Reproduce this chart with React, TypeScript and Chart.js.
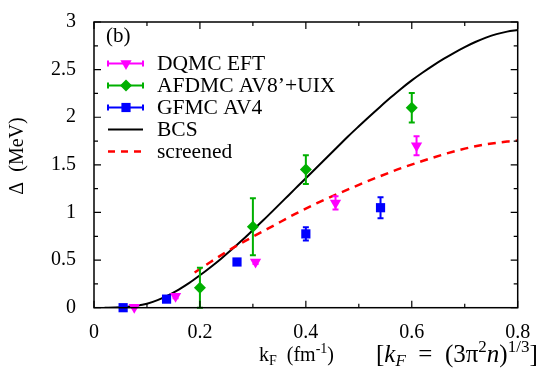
import React, { useEffect, useRef } from "react";
import { Chart, registerables } from "chart.js";

Chart.register(...registerables);

// ---- data ----
const dqmcX = [0.076, 0.154, 0.305, 0.456, 0.609];
const dqmcY = [0.005, 0.12, 0.48, 1.1, 1.7];
const dqmcErr = [0.01, 0.02, 0.02, 0.07, 0.1];

const afdmcX = [0.2, 0.3, 0.4, 0.6];
const afdmcY = [0.21, 0.85, 1.45, 2.1];
const afdmcErr = [0.21, 0.3, 0.15, 0.155];

const gfmcX = [0.055, 0.137, 0.27, 0.4, 0.541];
const gfmcY = [0.0, 0.09, 0.48, 0.775, 1.05];
const gfmcErr = [0.01, 0.01, 0.01, 0.07, 0.11];

const bcsX = [0.02, 0.04, 0.06, 0.08, 0.1, 0.12, 0.14, 0.16, 0.18, 0.2, 0.22, 0.24, 0.26, 0.28, 0.3, 0.32, 0.34, 0.36, 0.38, 0.4, 0.42, 0.44, 0.46, 0.48, 0.5, 0.52, 0.54, 0.56, 0.58, 0.6, 0.62, 0.64, 0.66, 0.68, 0.7, 0.72, 0.74, 0.76, 0.78, 0.8];
const bcsY = [0, 0.002, 0.008, 0.02, 0.042, 0.08, 0.13, 0.19, 0.26, 0.34, 0.425, 0.515, 0.61, 0.71, 0.815, 0.92, 1.03, 1.14, 1.25, 1.36, 1.47, 1.58, 1.69, 1.8, 1.905, 2.008, 2.108, 2.206, 2.3, 2.387, 2.467, 2.542, 2.612, 2.677, 2.737, 2.79, 2.836, 2.873, 2.899, 2.915];

const scrX = [0.19, 0.22, 0.26, 0.3, 0.34, 0.38, 0.42, 0.46, 0.5, 0.54, 0.58, 0.62, 0.66, 0.7, 0.74, 0.78, 0.8];
const scrY = [0.37, 0.48, 0.62, 0.745, 0.865, 0.985, 1.095, 1.195, 1.29, 1.38, 1.465, 1.54, 1.61, 1.67, 1.715, 1.745, 1.755];

const xTicks = [0, 0.2, 0.4, 0.6, 0.8];
const xTickLabels = ["0", "0.2", "0.4", "0.6", "0.8"];
const yTicks = [0, 0.5, 1, 1.5, 2, 2.5, 3];
const yTickLabels = ["0", "0.5", "1", "1.5", "2", "2.5", "3"];
const xMinor = [0.1, 0.3, 0.5, 0.7];
const yMinor = [0.25, 0.75, 1.25, 1.75, 2.25, 2.75];

const legendLabels = ["DQMC EFT", "AFDMC AV8\u2019+UIX", "GFMC AV4", "BCS", "screened"];

const MAGENTA = "#ff00ff";
const GREEN = "#00b000";
const BLUE = "#0000ff";
const RED = "#ff0000";

const SERIF = "'Liberation Serif', 'DejaVu Serif', serif";

const errs: Record<number, number[]> = { 0: dqmcErr, 1: afdmcErr, 2: gfmcErr };
const errColors: Record<number, string> = { 0: MAGENTA, 1: GREEN, 2: BLUE };

function drawSegments(ctx: CanvasRenderingContext2D, x: number, y: number, segs: { t: string; f: string; dy: number }[]) {
  let cx = x;
  ctx.textBaseline = "alphabetic";
  ctx.textAlign = "left";
  for (const s of segs) {
    ctx.font = s.f;
    ctx.fillText(s.t, cx, y + s.dy);
    cx += ctx.measureText(s.t).width;
  }
}

function drawMarker(ctx: CanvasRenderingContext2D, style: string, x: number, y: number, r: number, rotDeg: number) {
  const rad = (rotDeg * Math.PI) / 180;
  ctx.beginPath();
  if (style === "triangle") {
    let a = rad;
    ctx.moveTo(x + Math.sin(a) * r, y - Math.cos(a) * r);
    a += (2 * Math.PI) / 3;
    ctx.lineTo(x + Math.sin(a) * r, y - Math.cos(a) * r);
    a += (2 * Math.PI) / 3;
    ctx.lineTo(x + Math.sin(a) * r, y - Math.cos(a) * r);
    ctx.closePath();
  } else if (style === "rectRot") {
    ctx.moveTo(x, y - r);
    ctx.lineTo(x + r, y);
    ctx.lineTo(x, y + r);
    ctx.lineTo(x - r, y);
    ctx.closePath();
  } else {
    const s = Math.SQRT1_2 * r;
    ctx.rect(x - s, y - s, 2 * s, 2 * s);
  }
  ctx.fill();
}

const plotPlugin = {
  id: "plotDeco",
  beforeDatasetDraw(chart: any, args: any) {
    const i = args.index;
    if (!(i in errs)) return;
    const ctx = chart.ctx;
    const xs = chart.scales.x;
    const ys = chart.scales.y;
    const ds = chart.data.datasets[i];
    ctx.save();
    ctx.strokeStyle = errColors[i];
    ctx.lineWidth = 2;
    ds.data.forEach((p: any, k: number) => {
      const e = errs[i][k];
      const px = xs.getPixelForValue(p.x);
      const top = ys.getPixelForValue(Math.min(3, p.y + e));
      const bot = ys.getPixelForValue(Math.max(0, p.y - e));
      ctx.beginPath();
      ctx.moveTo(px, top);
      ctx.lineTo(px, bot);
      ctx.moveTo(px - 3, top);
      ctx.lineTo(px + 3, top);
      ctx.moveTo(px - 3, bot);
      ctx.lineTo(px + 3, bot);
      ctx.stroke();
    });
    ctx.restore();
  },
  afterDraw(chart: any) {
    const ctx: CanvasRenderingContext2D = chart.ctx;
    const a = chart.chartArea;
    const xs = chart.scales.x;
    const ys = chart.scales.y;
    ctx.save();
    ctx.strokeStyle = "#000";
    ctx.lineWidth = 1.2;
    ctx.beginPath();
    const tickX = (v: number, len: number) => {
      const px = xs.getPixelForValue(v);
      ctx.moveTo(px, a.bottom);
      ctx.lineTo(px, a.bottom - len);
      ctx.moveTo(px, a.top);
      ctx.lineTo(px, a.top + len);
    };
    const tickY = (v: number, len: number) => {
      const py = ys.getPixelForValue(v);
      ctx.moveTo(a.left, py);
      ctx.lineTo(a.left + len, py);
      ctx.moveTo(a.right, py);
      ctx.lineTo(a.right - len, py);
    };
    xTicks.forEach((v) => tickX(v, 7));
    xMinor.forEach((v) => tickX(v, 4));
    yTicks.forEach((v) => tickY(v, 7));
    yMinor.forEach((v) => tickY(v, 4));
    ctx.stroke();
    ctx.lineWidth = 1.5;
    ctx.strokeRect(a.left, a.top, a.right - a.left, a.bottom - a.top);

    ctx.fillStyle = "#000";
    ctx.font = `21px ${SERIF}`;
    ctx.textAlign = "left";
    ctx.textBaseline = "middle";
    ctx.fillText("(b)", 106, 36);

    const colors = [MAGENTA, GREEN, BLUE, "#000", RED];
    const styles = ["triangle", "rectRot", "rect"];
    for (let k = 0; k < 5; k++) {
      const y = 63.5 + k * 22;
      ctx.strokeStyle = colors[k];
      ctx.fillStyle = colors[k];
      ctx.setLineDash([]);
      if (k < 3) {
        ctx.lineWidth = 2;
        ctx.beginPath();
        ctx.moveTo(108, y);
        ctx.lineTo(143, y);
        ctx.moveTo(108, y - 3);
        ctx.lineTo(108, y + 3);
        ctx.moveTo(143, y - 3);
        ctx.lineTo(143, y + 3);
        ctx.stroke();
        const ds = chart.data.datasets[k];
        drawMarker(ctx, styles[k], 126, y, ds.pointRadius, ds.pointRotation || 0);
      } else if (k === 3) {
        ctx.lineWidth = 2;
        ctx.beginPath();
        ctx.moveTo(108, y);
        ctx.lineTo(143, y);
        ctx.stroke();
      } else {
        ctx.lineWidth = 2.5;
        ctx.setLineDash([7, 6]);
        ctx.beginPath();
        ctx.moveTo(108, y);
        ctx.lineTo(143, y);
        ctx.stroke();
        ctx.setLineDash([]);
      }
      ctx.fillStyle = "#000";
      ctx.font = `21.5px ${SERIF}`;
      ctx.textAlign = "left";
      ctx.textBaseline = "middle";
      ctx.fillText(legendLabels[k], 157, y + 1);
    }

    ctx.save();
    ctx.translate(18, 156);
    ctx.rotate(-Math.PI / 2);
    ctx.font = `20px ${SERIF}`;
    ctx.textAlign = "center";
    ctx.textBaseline = "middle";
    ctx.fillStyle = "#000";
    ctx.fillText("\u0394  (MeV)", 0, 0);
    ctx.restore();

    ctx.fillStyle = "#000";
    const R = `20px ${SERIF}`;
    const Rs = `14px ${SERIF}`;
    const M = `25px ${SERIF}`;
    const Ms = `17px ${SERIF}`;
    const MI = `italic 25px ${SERIF}`;
    const MIs = `italic 17px ${SERIF}`;
    drawSegments(ctx, 259, 361, [
      { t: "k", f: R, dy: 0 },
      { t: "F", f: Rs, dy: 4 },
      { t: "  (fm", f: R, dy: 0 },
      { t: "-1", f: Rs, dy: -8 },
      { t: ")", f: R, dy: 0 },
    ]);
    drawSegments(ctx, 376, 362, [
      { t: "[", f: M, dy: 0 },
      { t: "k", f: MI, dy: 0 },
      { t: "F", f: MIs, dy: 4 },
      { t: "  =  (3\u03c0", f: M, dy: 0 },
      { t: "2", f: Ms, dy: -10 },
      { t: "n", f: MI, dy: 0 },
      { t: ")", f: M, dy: 0 },
      { t: "1/3", f: Ms, dy: -10 },
      { t: "]", f: M, dy: 0 },
    ]);
    ctx.restore();
  },
};

const zip = (xs: number[], ys: number[]) => xs.map((x, i) => ({ x, y: ys[i] }));

export default function App() {
  const ref = useRef<HTMLCanvasElement | null>(null);
  useEffect(() => {
    if (!ref.current) return;
    const chart = new Chart(ref.current, {
      type: "scatter",
      data: {
        datasets: [
          {
            label: legendLabels[0],
            data: zip(dqmcX, dqmcY),
            pointStyle: "triangle",
            pointRotation: 180,
            pointRadius: 6.5,
            backgroundColor: MAGENTA,
            borderColor: MAGENTA,
            borderWidth: 0,
            showLine: false,
            clip: false,
            order: 0,
          } as any,
          {
            label: legendLabels[1],
            data: zip(afdmcX, afdmcY),
            pointStyle: "rectRot",
            pointRadius: 6,
            backgroundColor: GREEN,
            borderColor: GREEN,
            borderWidth: 0,
            showLine: false,
            clip: false,
            order: 1,
          } as any,
          {
            label: legendLabels[2],
            data: zip(gfmcX, gfmcY),
            pointStyle: "rect",
            pointRadius: 6.5,
            backgroundColor: BLUE,
            borderColor: BLUE,
            borderWidth: 0,
            showLine: false,
            clip: false,
            order: 2,
          } as any,
          {
            label: legendLabels[3],
            data: zip(bcsX, bcsY),
            showLine: true,
            pointRadius: 0,
            borderColor: "#000",
            borderWidth: 2,
            cubicInterpolationMode: "monotone",
            order: 4,
          } as any,
          {
            label: legendLabels[4],
            data: zip(scrX, scrY),
            showLine: true,
            pointRadius: 0,
            borderColor: RED,
            borderWidth: 2.5,
            borderDash: [8, 6],
            cubicInterpolationMode: "monotone",
            order: 3,
          } as any,
        ],
      },
      options: {
        responsive: false,
        animation: false,
        devicePixelRatio: 1,
        layout: { padding: { top: 15, right: 34.3, left: 0, bottom: 0 } },
        plugins: { legend: { display: false }, tooltip: { enabled: false } },
        scales: {
          x: {
            type: "linear",
            min: 0,
            max: 0.8,
            afterFit: (s: any) => {
              s.height = 64.3;
            },
            afterBuildTicks: (s: any) => {
              s.ticks = xTicks.map((v) => ({ value: v }));
            },
            grid: { display: false },
            border: { display: false },
            ticks: {
              padding: 5,
              color: "#000",
              font: { family: SERIF, size: 20 },
              callback: (v: any) => {
                const i = xTicks.findIndex((t) => Math.abs(t - v) < 1e-6);
                return i >= 0 ? xTickLabels[i] : "";
              },
            },
          },
          y: {
            type: "linear",
            min: 0,
            max: 3,
            afterFit: (s: any) => {
              s.width = 94;
            },
            afterBuildTicks: (s: any) => {
              s.ticks = yTicks.map((v) => ({ value: v }));
            },
            grid: { display: false },
            border: { display: false },
            ticks: {
              padding: 10,
              color: "#000",
              font: { family: SERIF, size: 20 },
              callback: (v: any) => {
                const i = yTicks.findIndex((t) => Math.abs(t - v) < 1e-6);
                return i >= 0 ? yTickLabels[i] : "";
              },
            },
          },
        },
      },
      plugins: [plotPlugin],
    });
    return () => chart.destroy();
  }, []);
  return (
    <div style={{ position: "absolute", left: 0, top: 0, width: 552, height: 372, background: "#fff" }}>
      <canvas ref={ref} width={552} height={372} />
    </div>
  );
}
